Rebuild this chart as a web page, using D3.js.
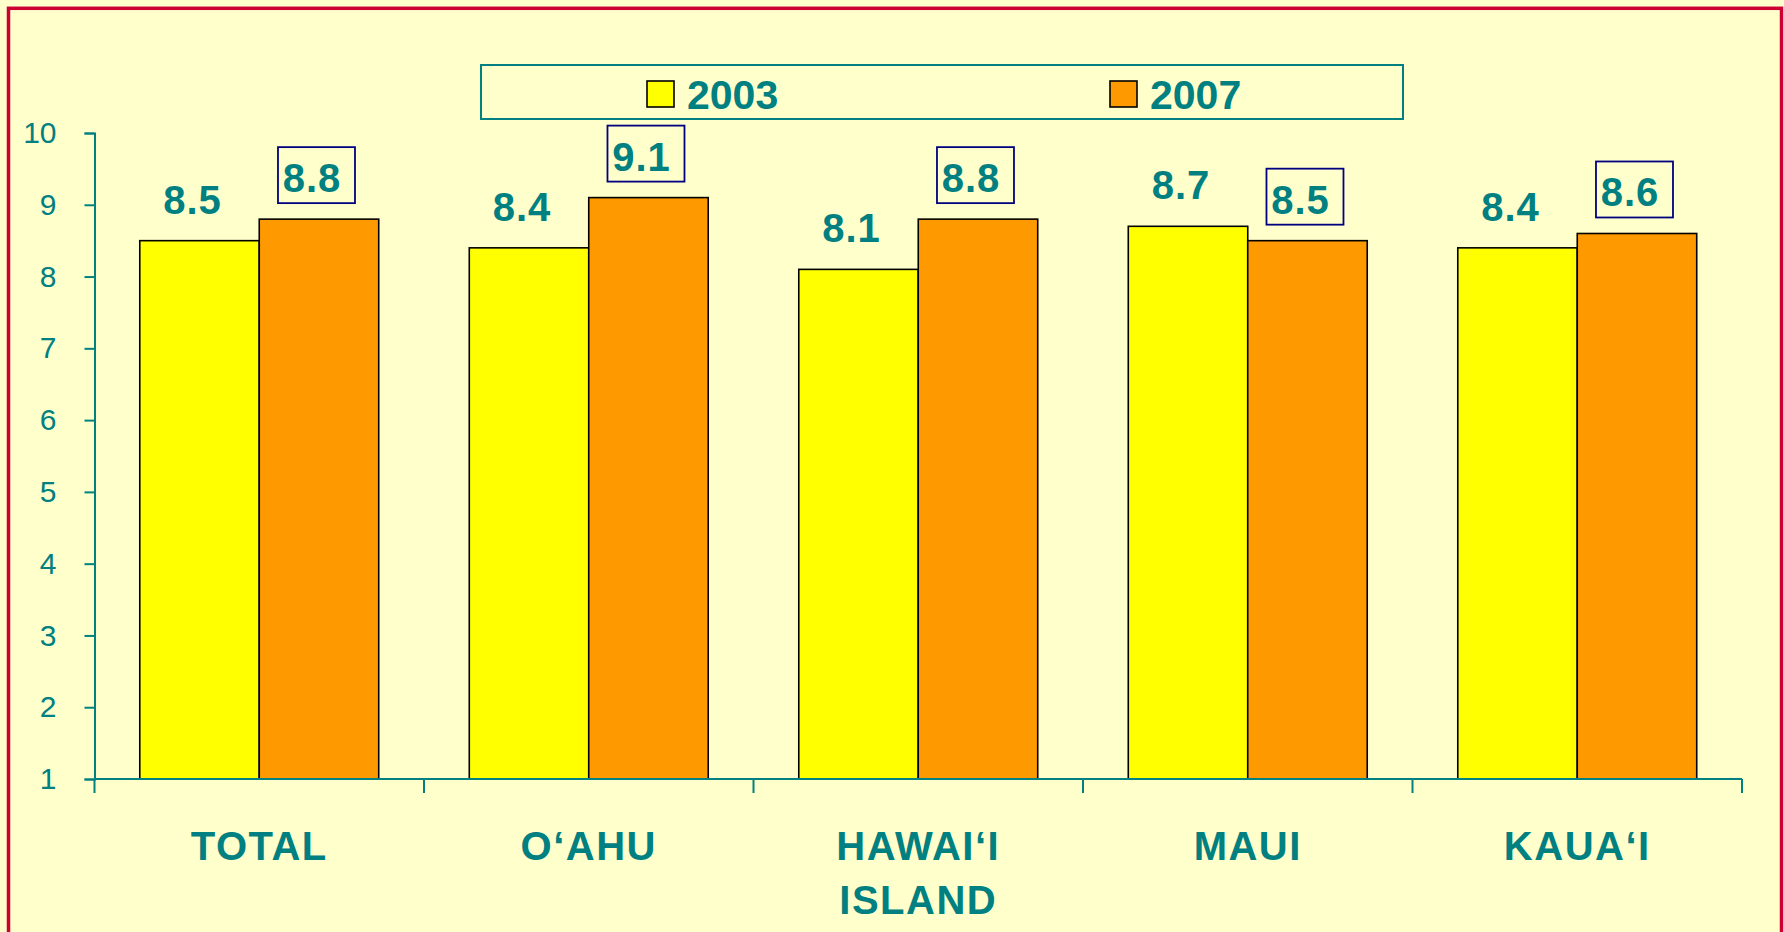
<!DOCTYPE html>
<html>
<head>
<meta charset="utf-8">
<script src="https://cdn.jsdelivr.net/npm/d3@7"></script>
<style>
  html, body { margin: 0; padding: 0; background: #FFFFCC; }
  svg { display: block; font-family: Arial, "Liberation Sans", sans-serif; }
</style>
</head>
<body>
<script>
// Island categories and the two survey years
const categories = ["TOTAL", "O‘AHU", "HAWAI‘I ISLAND", "MAUI", "KAUA‘I"];
const categoryLines = [["TOTAL"], ["O‘AHU"], ["HAWAI‘I", "ISLAND"], ["MAUI"], ["KAUA‘I"]];
const seriesNames = ["2003", "2007"];
const values2003 = [8.5, 8.4, 8.1, 8.7, 8.4];
const values2007 = [8.8, 9.1, 8.8, 8.5, 8.6];
const yTicks = [1, 2, 3, 4, 5, 6, 7, 8, 9, 10];

const W = 1784, H = 932;
const teal = "#008080";
const colors = { "2003": "#FFFF00", "2007": "#FF9900" };

const svg = d3.select("body").append("svg")
  .attr("width", W).attr("height", H);

svg.append("rect").attr("width", W).attr("height", H).attr("fill", "#FFFFCC");

// outer red frame (runs off the bottom edge)
svg.append("rect")
  .attr("x", 8.5).attr("y", 8.3)
  .attr("width", 1773).attr("height", 1000)
  .attr("fill", "none").attr("stroke", "#CC0033").attr("stroke-width", 3.5);

const plot = { left: 94.5, right: 1742, top: 133, bottom: 779 };

const x = d3.scaleBand().domain(categories).range([plot.left, plot.right]).paddingInner(0).paddingOuter(0);
const xs = d3.scaleBand().domain(seriesNames).range([0, x.bandwidth()]).paddingInner(0).paddingOuter(0.379);
const y = d3.scaleLinear().domain([1, 10]).range([plot.bottom, plot.top]);

const rows = categories.map((c, i) => ({ cat: c, lines: categoryLines[i], vals: { "2003": values2003[i], "2007": values2007[i] } }));

// bars
const groups = svg.append("g").selectAll("g").data(rows).join("g")
  .attr("transform", d => `translate(${x(d.cat)},0)`);

groups.selectAll("rect").data(d => seriesNames.map(s => ({ s, v: d.vals[s] }))).join("rect")
  .attr("x", d => xs(d.s))
  .attr("y", d => y(d.v))
  .attr("width", xs.bandwidth())
  .attr("height", d => y(1) - y(d.v))
  .attr("fill", d => colors[d.s])
  .attr("stroke", "#000").attr("stroke-width", 1.6);

// value labels; the 2007 ones are framed
groups.each(function (d) {
  const g = d3.select(this);
  seriesNames.forEach(s => {
    const cx = xs(s) + xs.bandwidth() / 2;
    const base = y(d.vals[s]) - 27;
    if (s === "2007") {
      g.append("rect")
        .attr("x", cx - 41).attr("y", base - 45)
        .attr("width", 77).attr("height", 56)
        .attr("fill", "none").attr("stroke", "#000080").attr("stroke-width", 1.8);
    }
    g.append("text")
      .attr("x", cx - 7).attr("y", base)
      .attr("text-anchor", "middle")
      .attr("font-size", 40).attr("font-weight", "bold")
      .attr("letter-spacing", 1)
      .attr("fill", teal)
      .text(d3.format(".1f")(d.vals[s]));
  });
});

// y axis
const yAxis = svg.append("g")
  .attr("transform", `translate(${plot.left},0)`)
  .call(d3.axisLeft(y).tickValues(yTicks).tickSize(10).tickPadding(28).tickFormat(d3.format("d")));
yAxis.select(".domain").attr("stroke", teal).attr("stroke-width", 2);
yAxis.selectAll(".tick line").attr("stroke", teal).attr("stroke-width", 2);
yAxis.selectAll(".tick text")
  .attr("fill", teal).attr("font-size", 30)
  .attr("font-family", "Arial, 'Liberation Sans', sans-serif");

// x axis line with category boundary ticks
const xAxis = svg.append("g");
xAxis.append("line")
  .attr("x1", plot.left).attr("x2", plot.right)
  .attr("y1", y(1)).attr("y2", y(1))
  .attr("stroke", teal).attr("stroke-width", 2);
const bounds = categories.map(c => x(c)).concat([x(categories[categories.length - 1]) + x.bandwidth()]);
xAxis.selectAll("line.tk").data(bounds).join("line").attr("class", "tk")
  .attr("x1", d => d).attr("x2", d => d)
  .attr("y1", y(1)).attr("y2", y(1) + 14)
  .attr("stroke", teal).attr("stroke-width", 2);

// category labels
const catLabels = svg.append("g").selectAll("text").data(rows).join("text")
  .attr("x", d => x(d.cat) + x.bandwidth() / 2)
  .attr("y", 860)
  .attr("text-anchor", "middle")
  .attr("font-size", 40).attr("font-weight", "bold")
  .attr("fill", teal)
  .attr("letter-spacing", 1.5);
catLabels.selectAll("tspan").data(d => d.lines).join("tspan")
  .attr("x", function () { return d3.select(this.parentNode).attr("x"); })
  .attr("dy", (d, i) => i === 0 ? 0 : 54)
  .text(d => d);

// legend
const legend = svg.append("g");
legend.append("rect")
  .attr("x", 481).attr("y", 65).attr("width", 922).attr("height", 54)
  .attr("fill", "#FFFFCC").attr("stroke", teal).attr("stroke-width", 2);
const legendX = { "2003": 647, "2007": 1110 };
seriesNames.forEach(s => {
  legend.append("rect")
    .attr("x", legendX[s]).attr("y", 81).attr("width", 27).attr("height", 26)
    .attr("fill", colors[s]).attr("stroke", "#000").attr("stroke-width", 1.6);
  legend.append("text")
    .attr("x", legendX[s] + 40).attr("y", 109)
    .attr("font-size", 41).attr("font-weight", "bold")
    .attr("fill", teal)
    .text(s);
});
</script>
</body>
</html>
